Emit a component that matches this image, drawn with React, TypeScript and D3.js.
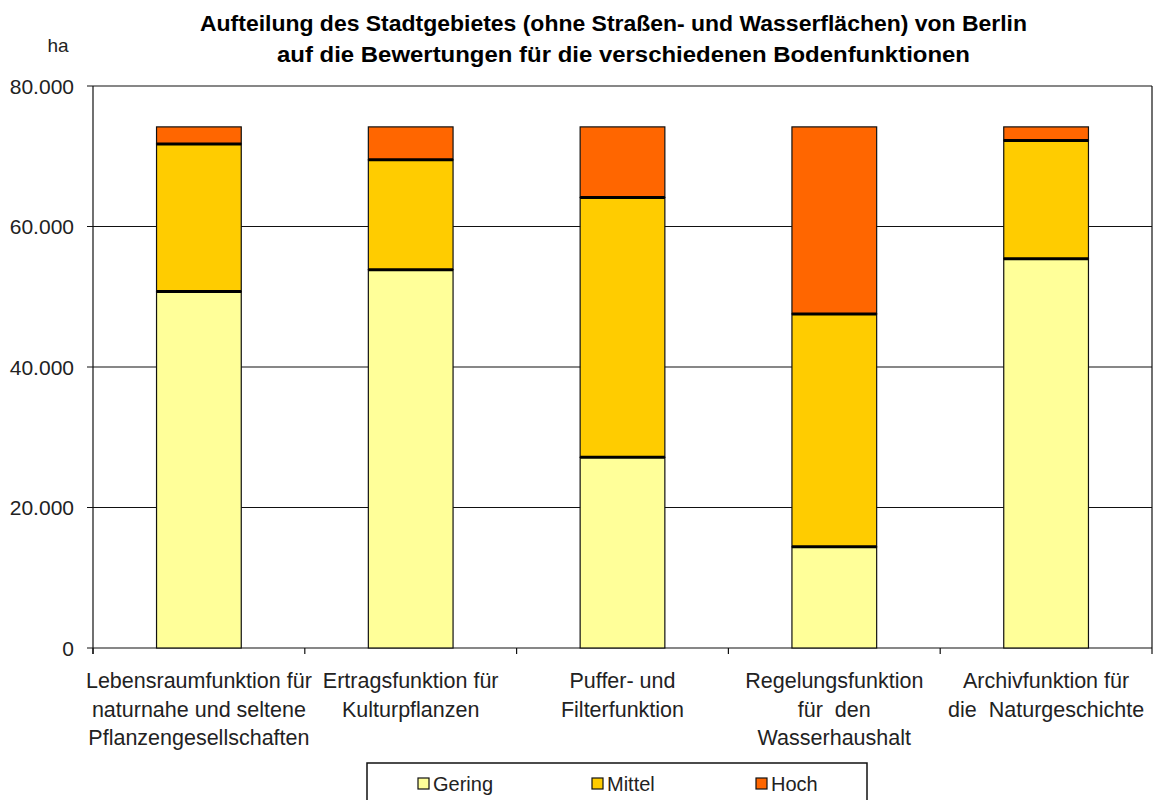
import React from "react";
import * as d3 from "d3";

const categories: string[][] = [
  ["Lebensraumfunktion für", "naturnahe und seltene", "Pflanzengesellschaften"],
  ["Ertragsfunktion für", "Kulturpflanzen"],
  ["Puffer- und", "Filterfunktion"],
  ["Regelungsfunktion", "für  den", "Wasserhaushalt"],
  ["Archivfunktion für", "die  Naturgeschichte"],
];
const seriesNames = ["Gering", "Mittel", "Hoch"];
const seriesColors = ["#FFFF99", "#FFCC00", "#FF6600"];
const gering = [50730, 53860, 27140, 14400, 55420];
const mittel = [21030, 15630, 36990, 33160, 16820];
const hoch = [2420, 4690, 10050, 26620, 1940];
const yTicks = [0, 20000, 40000, 60000, 80000];
const titleLines = [
  "Aufteilung des Stadtgebietes (ohne Straßen- und Wasserflächen) von Berlin",
  "auf die Bewertungen für die verschiedenen Bodenfunktionen",
];

const W = 1154, H = 800;
const left = 93, right = 1152, top = 86, bottom = 648;
const FONT = "'Liberation Sans', Arial, sans-serif";

export default function App() {
  const x = d3.scaleBand<number>().domain(d3.range(categories.length)).range([left, right]).paddingInner(0.6).paddingOuter(0.3);
  const band = (right - left) / categories.length;
  const y = d3.scaleLinear().domain([0, 80000]).range([bottom, top]);
  const table = categories.map((_, i) => ({ i, Gering: gering[i], Mittel: mittel[i], Hoch: hoch[i] }));
  const stack = d3.stack<any>().keys(seriesNames)(table);
  const fmt = (v: number) => d3.format(",")(v).replace(/,/g, ".");
  const titleLen = [827, 693];

  return (
    <svg width={W} height={H} style={{ position: "absolute", left: 0, top: 0, background: "#fff" }}>
      {titleLines.map((t, k) => (
        <text key={k} x={[613.5, 623.5][k]} y={31 + k * 31} textAnchor="middle" fontFamily={FONT} fontWeight="bold" fontSize={22} fill="#000" textLength={titleLen[k]} lengthAdjust="spacingAndGlyphs">{t}</text>
      ))}
      <text x={58} y={52} textAnchor="middle" fontFamily={FONT} fontSize={19} fill="#222">ha</text>
      {yTicks.map((t) => (
        <g key={t}>
          <line x1={left - 6} x2={right} y1={y(t)} y2={y(t)} stroke="#111" strokeWidth={1.2} />
          <text x={74} y={y(t) + 7.5} textAnchor="end" fontFamily={FONT} fontSize={21} fill="#222">{fmt(t)}</text>
        </g>
      ))}
      <line x1={left} x2={left} y1={top} y2={bottom + 6} stroke="#111" strokeWidth={1.2} />
      <line x1={right} x2={right} y1={top} y2={bottom} stroke="#111" strokeWidth={1.2} />
      {d3.range(categories.length + 1).map((k) => (
        <line key={k} x1={left + k * band} x2={left + k * band} y1={bottom} y2={bottom + 6} stroke="#111" strokeWidth={1.2} />
      ))}
      {stack.map((s, si) => (
        <g key={si}>
          {s.map((d, i) => (
            <rect key={i} x={x(i)} width={x.bandwidth()} y={y(d[1])} height={y(d[0]) - y(d[1])} fill={seriesColors[si]} stroke="#111" strokeWidth={1.2} />
          ))}
        </g>
      ))}
      {stack.slice(0, -1).map((s, si) => (
        <g key={"b" + si}>
          {s.map((d, i) => (
            <line key={i} x1={x(i)!} x2={x(i)! + x.bandwidth()} y1={y(d[1])} y2={y(d[1])} stroke="#000" strokeWidth={3} />
          ))}
        </g>
      ))}
      {categories.map((lines, i) => (
        <text key={i} textAnchor="middle" fontFamily={FONT} fontSize={21.5} fill="#222">
          {lines.map((l, k) => (
            <tspan key={k} x={x(i)! + x.bandwidth() / 2} y={688 + k * 28.5} style={{ whiteSpace: "pre" }}>{l}</tspan>
          ))}
        </text>
      ))}
      <rect x={367} y={763} width={500} height={60} fill="#fff" stroke="#111" strokeWidth={1.5} />
      {seriesNames.map((n, k) => {
        const lx = [418, 592, 756][k];
        return (
          <g key={n}>
            <rect x={lx} y={778} width={11} height={11} fill={seriesColors[k]} stroke="#111" strokeWidth={1.2} />
            <text x={lx + 15} y={791} fontFamily={FONT} fontSize={20} fill="#222">{n}</text>
          </g>
        );
      })}
    </svg>
  );
}
